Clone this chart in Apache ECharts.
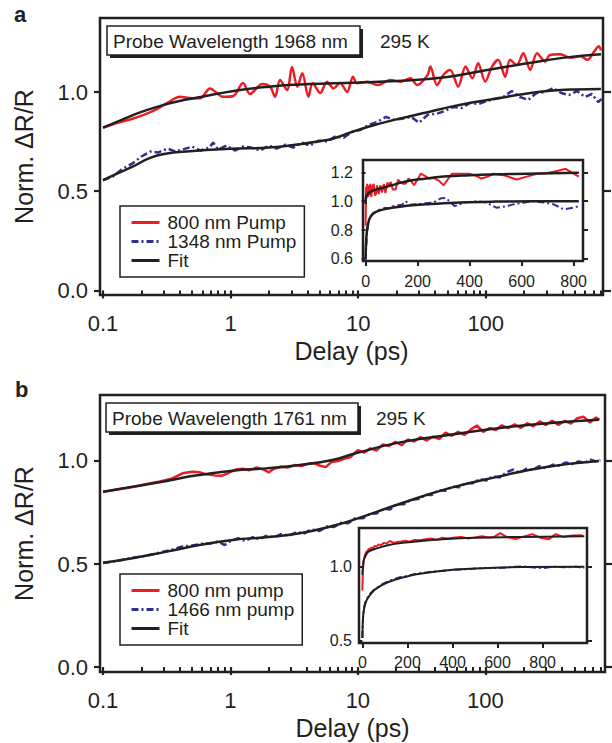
<!DOCTYPE html>
<html>
<head>
<meta charset="utf-8">
<script src="https://cdn.jsdelivr.net/npm/echarts@6/dist/echarts.min.js"></script>
<style>html,body{margin:0;padding:0;background:#fff}#c{width:612px;height:743px}</style>
</head>
<body>
<div id="c"></div>
<script>
// ---------- tick values ----------
const logMajorTicks = [0.1, 1, 10, 100];
const logMinorTicks = [0.2,0.3,0.4,0.5,0.6,0.7,0.8,0.9,2,3,4,5,6,7,8,9,20,30,40,50,60,70,80,90,200,300,400,500,600,700,800];
const mainYTicks = [0, 0.5, 1.0];
const insetAYTicks = [0.6, 0.8, 1.0, 1.2];
const insetBYTicks = [0.5, 1.0];
const insetXTicks = [0, 200, 400, 600, 800];

// ---------- panel a, main (log delay) ----------
const aRedX = [0.1,0.13,0.17,0.247,0.32,0.40,0.50,0.577,0.69,0.87,1.05,1.25,1.42,1.77,2.04,2.23,2.44,2.77,3.03,3.33,3.65,4.07,4.4,5.04,5.7,6.4,7.2,8.2,9.1,9.8,11.8,14.1,17.9,21.4,25.7,29,35,36.8,41.5,46.5,52.6,60.8,69.4,78.5,87.2,99,112,125,142,155,175,197,223,252,292,318,385,460,554,627,706,770,800];
const aRedY = [0.82,0.845,0.865,0.905,0.945,0.976,0.968,0.968,1.018,0.976,0.98,1.045,0.99,1.04,1.027,0.976,1.06,1.01,1.126,1.027,1.094,0.976,1.045,0.995,1.052,1.018,1.045,1.0,1.077,1.044,1.052,1.035,1.06,1.052,1.069,1.035,1.086,1.128,1.035,1.086,1.111,1.027,1.128,1.069,1.145,1.052,1.128,1.162,1.077,1.162,1.136,1.195,1.111,1.195,1.153,1.187,1.19,1.173,1.18,1.162,1.203,1.23,1.21];
const aBlueX = [0.1,0.12,0.14,0.17,0.2,0.234,0.27,0.32,0.37,0.43,0.5,0.58,0.68,0.73,0.8,0.93,1.08,1.25,1.45,1.7,2.0,2.3,2.7,3.1,3.6,4.2,4.9,5.7,6.6,7.7,9,10.5,12.2,14.2,16.5,19,22,26,30,35,41,48,56,65,75,88,102,118,137,160,185,215,250,290,340,390,450,520,600,680,760,810];
const aBlueY = [0.555,0.575,0.61,0.64,0.675,0.70,0.695,0.715,0.70,0.712,0.725,0.705,0.72,0.745,0.71,0.73,0.705,0.725,0.72,0.705,0.73,0.715,0.735,0.72,0.745,0.73,0.755,0.75,0.775,0.77,0.80,0.81,0.835,0.85,0.875,0.86,0.865,0.875,0.845,0.885,0.89,0.905,0.925,0.92,0.945,0.94,0.955,0.965,0.975,1.005,0.975,0.96,0.995,1.0,1.02,0.995,0.985,1.005,0.975,0.99,0.95,0.965];
const aRedFitX = [0.1,0.14,0.2,0.3,0.45,0.6,1,2,3.5,6.4,10,20,50,100,200,400,800];
const aRedFitY = [0.82,0.86,0.9,0.935,0.962,0.976,1.003,1.027,1.038,1.044,1.048,1.055,1.076,1.11,1.142,1.172,1.19];
const aBlueFitX = [0.1,0.13,0.172,0.234,0.318,0.45,0.6,1,2,3.5,5,6.4,8.6,12,21.4,35,52.6,80,129,200,318,500,800];
const aBlueFitY = [0.556,0.59,0.625,0.668,0.69,0.70,0.706,0.714,0.72,0.737,0.752,0.766,0.795,0.825,0.867,0.898,0.925,0.948,0.97,0.99,1.006,1.013,1.015];

// ---------- panel a, inset (linear delay) ----------
const aInRedX = [0,2,4,6,9,12,15,18,22,26,31,36,40,44,50,57,63,70,76,84,90,96,105,115,125,135,145,154,165,175,186,200,212,228,245,263,283,300,316,332,348,370,400,425,445,470,490,530,581,620,659,700,740,769,800,820];
const aInRedY = [0.83,1.1,1.02,1.12,1.03,1.11,1.04,1.12,1.03,1.10,1.12,1.04,1.05,1.11,1.05,1.11,1.06,1.12,1.056,1.13,1.10,1.135,1.08,1.08,1.148,1.13,1.12,1.12,1.157,1.14,1.11,1.15,1.19,1.175,1.157,1.16,1.14,1.11,1.15,1.19,1.19,1.19,1.19,1.175,1.157,1.17,1.19,1.18,1.15,1.17,1.19,1.195,1.21,1.224,1.19,1.17];
const aInBlueX = [0,3,6,10,13,18,24,31,40,50,62,76,90,105,120,140,154,170,200,230,260,290,309,342,380,426,465,503,540,568,610,645,690,723,762,800,820];
const aInBlueY = [0.59,0.7,0.78,0.84,0.877,0.89,0.905,0.92,0.925,0.94,0.945,0.955,0.95,0.965,0.97,0.975,1.0,0.975,0.98,0.985,0.99,1.02,1.022,0.966,0.99,1.0,0.99,0.955,0.965,0.978,0.99,1.0,0.99,0.978,0.944,0.955,0.966];
const aInRedFitX = [0,1,3,8,18,40,70,101,150,232,300,400,500,620,820];
const aInRedFitY = [0.98,1.02,1.035,1.05,1.065,1.08,1.095,1.11,1.135,1.157,1.17,1.18,1.186,1.19,1.197];
const aInBlueFitX = [0,2,6,12,18,30,50,75,101,150,232,300,400,500,650,820];
const aInBlueFitY = [0.6,0.72,0.81,0.86,0.888,0.915,0.933,0.945,0.955,0.966,0.978,0.986,0.993,0.997,1.0,1.0];

// ---------- panel b, main (log delay) ----------
const bRedX = [0.1,0.13,0.17,0.22,0.28,0.35,0.42,0.5,0.57,0.65,0.75,0.85,0.95,1.1,1.25,1.4,1.6,1.8,2.0,2.2,2.5,2.8,3.2,3.6,4.0,4.5,5.0,5.6,6.2,7,7.8,8.7,10,11.2,12.5,14,15.7,17.6,19.7,22,24.7,27.7,31,34.7,38.9,43.5,48.8,54.6,61.2,68.5,76.7,85.9,96.3,108,121,135,151,170,190,213,238,267,299,335,375,420,470,527,590,661,740,790];
const bRedY = [0.85,0.862,0.873,0.888,0.9,0.915,0.94,0.948,0.945,0.935,0.93,0.928,0.94,0.958,0.962,0.955,0.968,0.96,0.945,0.962,0.972,0.968,0.98,0.975,0.985,0.99,0.978,0.97,0.995,1.0,1.01,1.018,1.052,1.040,1.061,1.050,1.080,1.073,1.093,1.076,1.105,1.094,1.116,1.099,1.118,1.106,1.138,1.122,1.141,1.126,1.152,1.172,1.141,1.160,1.150,1.173,1.159,1.178,1.160,1.183,1.168,1.192,1.174,1.195,1.175,1.195,1.181,1.207,1.215,1.187,1.211,1.2];
const bBlueX = [0.1,0.13,0.17,0.22,0.28,0.35,0.42,0.5,0.6,0.7,0.8,0.9,1.0,1.15,1.3,1.5,1.7,1.9,2.2,2.5,2.9,3.3,3.8,4.3,5,5.7,6.5,7.4,8.4,9.5,11,12.5,14,16,18,20,23,26,30,34,38,43,49,55,62,70,80,90,102,115,130,147,165,185,210,235,265,300,340,380,430,480,540,600,670,740,800];
const bBlueY = [0.505,0.515,0.53,0.54,0.556,0.57,0.585,0.59,0.598,0.6,0.61,0.592,0.610,0.625,0.612,0.63,0.62,0.636,0.63,0.645,0.638,0.655,0.648,0.668,0.66,0.682,0.68,0.7,0.698,0.722,0.722,0.745,0.745,0.768,0.765,0.79,0.79,0.812,0.815,0.836,0.835,0.858,0.855,0.876,0.872,0.892,0.892,0.912,0.905,0.926,0.92,0.945,0.958,0.942,0.962,0.955,0.975,0.965,0.982,0.978,0.993,0.985,0.998,0.99,1.006,0.998,1.004];
const bRedFitX = [0.1,0.17,0.316,0.45,0.57,1.04,1.9,3.5,6.3,9.6,20.9,51.5,126,310,780];
const bRedFitY = [0.851,0.875,0.903,0.922,0.932,0.953,0.964,0.98,1.005,1.037,1.089,1.126,1.159,1.183,1.2];
const bBlueFitX = [0.1,0.17,0.316,0.57,1.04,1.9,3.5,6.3,9.6,20.9,51.5,126,310,780];
const bBlueFitY = [0.506,0.528,0.56,0.592,0.617,0.63,0.649,0.684,0.718,0.79,0.867,0.924,0.972,1.0];

// ---------- panel b, inset (linear delay) ----------
const bInRedX = [0,2,4,7,10,14,18,23,28,34,40,47,55,63,72,83,95,108,122,138,155,172,190,210,232,255,280,305,330,355,380,411,440,470,500,530,560,585,612,640,680,710,754,790,828,858,890,930,977];
const bInRedY = [0.84,0.96,1.02,1.05,1.07,1.09,1.1,1.105,1.12,1.115,1.13,1.125,1.14,1.135,1.15,1.145,1.16,1.155,1.173,1.16,1.166,1.17,1.175,1.168,1.18,1.178,1.185,1.19,1.18,1.195,1.19,1.196,1.2,1.19,1.196,1.205,1.196,1.2,1.226,1.2,1.185,1.2,1.219,1.195,1.185,1.219,1.2,1.21,1.212];
const bInBlueX = [0,2,3,5,8,12,17,25,33,42,52,60,72,85,100,113,130,150,170,188,210,235,262,290,320,350,380,411,450,490,530,560,600,640,680,709,750,800,850,900,950,985];
const bInBlueY = [0.52,0.6,0.66,0.69,0.728,0.755,0.775,0.797,0.815,0.83,0.845,0.854,0.865,0.878,0.89,0.9,0.91,0.92,0.93,0.934,0.942,0.95,0.957,0.962,0.968,0.97,0.975,0.979,0.982,0.985,0.99,0.991,0.99,0.995,1.0,1.002,0.995,0.99,1.0,0.995,1.0,0.99];
const bInRedFitX = [0,3,7,15,25,40,60,113,180,262,411,560,709,985];
const bInRedFitY = [0.945,1.0,1.048,1.075,1.098,1.11,1.121,1.144,1.16,1.173,1.19,1.196,1.2,1.205];
const bInBlueFitX = [0,3,8,15,25,40,60,113,188,262,411,560,709,985];
const bInBlueFitY = [0.52,0.66,0.72,0.76,0.79,0.82,0.85,0.895,0.93,0.953,0.98,0.99,0.998,1.0];

// ---------- styling ----------
const FONT = '"Liberation Sans", Arial, Helvetica, sans-serif';
const INK = '#231f20';
const RED = '#ed1c24';
const BLUE = '#2e3192';
const DASHDOT = [7, 3, 2, 3];

function zip(xs, ys) { return xs.map((x, i) => [x, ys[i]]); }
function fmtLog(v) { return v < 1 ? (Math.round(v * 10) / 10).toFixed(1) : String(Math.round(v)); }

function logAxes(gridIndex, min, max, withName) {
  return [
    { type: 'log', logBase: 10, gridIndex, min, max, position: 'bottom',
      axisLine: { show: false },
      axisTick: { show: true, length: 8, customValues: logMajorTicks, lineStyle: { color: INK, width: 2.2 } },
      axisLabel: { show: true, customValues: logMajorTicks, formatter: fmtLog, fontFamily: FONT, fontSize: 22, color: INK, margin: 17 },
      splitLine: { show: false },
      name: withName ? 'Delay (ps)' : '', nameLocation: 'middle', nameGap: 43,
      nameTextStyle: { fontFamily: FONT, fontSize: 25, color: INK } },
    { type: 'log', logBase: 10, gridIndex, min, max, position: 'bottom',
      axisLine: { show: false },
      axisTick: { show: true, length: 5, customValues: logMinorTicks, lineStyle: { color: INK, width: 2 } },
      axisLabel: { show: false }, splitLine: { show: false } }
  ];
}
function mainY(gridIndex, min, max) {
  return [
    { type: 'value', gridIndex, min, max, position: 'left',
      axisLine: { show: false },
      axisTick: { show: true, length: 6, customValues: mainYTicks, lineStyle: { color: INK, width: 2.2 } },
      axisLabel: { show: true, customValues: mainYTicks, formatter: v => v.toFixed(1), fontFamily: FONT, fontSize: 22, color: INK, margin: 12 },
      splitLine: { show: false },
      name: 'Norm. \u0394R/R', nameLocation: 'middle', nameGap: 64, nameRotate: 90,
      nameTextStyle: { fontFamily: FONT, fontSize: 25, color: INK } },
    { type: 'value', gridIndex, min, max, position: 'right',
      axisLine: { show: false },
      axisTick: { show: true, length: 8, customValues: mainYTicks, lineStyle: { color: INK, width: 2.2 } },
      axisLabel: { show: false }, splitLine: { show: false } }
  ];
}
function insetX(gridIndex, min, max, margin) {
  return { type: 'value', gridIndex, min, max, position: 'bottom', z: 6,
    axisLine: { show: false },
    axisTick: { show: true, length: 5, customValues: insetXTicks, lineStyle: { color: INK, width: 2 } },
    axisLabel: { show: true, customValues: insetXTicks, fontFamily: FONT, fontSize: 16, color: INK, margin },
    splitLine: { show: false } };
}
function insetY(gridIndex, min, max, ticks, margin) {
  return [
    { type: 'value', gridIndex, min, max, position: 'left', z: 6,
      axisLine: { show: false },
      axisTick: { show: true, length: 4, customValues: ticks, lineStyle: { color: INK, width: 2 } },
      axisLabel: { show: true, customValues: ticks, formatter: v => v.toFixed(1), fontFamily: FONT, fontSize: 16, color: INK, margin },
      splitLine: { show: false } },
    { type: 'value', gridIndex, min, max, position: 'right', z: 6,
      axisLine: { show: false },
      axisTick: { show: true, length: 5, customValues: ticks, lineStyle: { color: INK, width: 2 } },
      axisLabel: { show: false }, splitLine: { show: false } }
  ];
}
function line(name, xs, ys, color, xi, yi, opts) {
  opts = opts || {};
  return {
    type: 'line', name, xAxisIndex: xi, yAxisIndex: yi, data: zip(xs, ys),
    showSymbol: false, symbol: 'none', smooth: opts.smooth || 0, z: opts.z || 2,
    lineStyle: { color, width: opts.width || 2.5, type: opts.dash || 'solid' },
    itemStyle: { color }, animation: false
  };
}
function legendAt(top, names) {
  return { orient: 'vertical', left: 120, top, padding: [7, 8, 7, 10], itemGap: 0,
    itemWidth: 28, itemHeight: 12, borderColor: INK, borderWidth: 1.5, backgroundColor: '#fff',
    data: names, selectedMode: false,
    itemStyle: { color: 'rgba(0,0,0,0)', borderColor: 'rgba(0,0,0,0)', borderWidth: 0, opacity: 0 },
    lineStyle: { width: 3 },
    textStyle: { fontFamily: FONT, fontSize: 19, color: INK, lineHeight: 19, padding: [0, 0, 0, 3] } };
}

const aMin = 0.0947, aMax = 830, bMin = 0.0947, bMax = 870;

const option = {
  animation: false,
  backgroundColor: '#fff',
  grid: [
    { left: 100, top: 18, width: 503, height: 277, show: true, borderColor: INK, borderWidth: 2.5, backgroundColor: 'transparent' },
    { left: 363, top: 160, width: 220, height: 101, show: true, borderColor: INK, borderWidth: 2.5, backgroundColor: '#fff', z: 5 },
    { left: 100, top: 395, width: 505, height: 277, show: true, borderColor: INK, borderWidth: 2.5, backgroundColor: 'transparent' },
    { left: 359, top: 528, width: 228, height: 115, show: true, borderColor: INK, borderWidth: 2.5, backgroundColor: '#fff', z: 5 }
  ],
  xAxis: [
    ...logAxes(0, aMin, aMax, true),
    insetX(1, -10, 836, 12),
    ...logAxes(2, bMin, bMax, true),
    insetX(3, -15, 997, 11)
  ],
  yAxis: [
    ...mainY(0, -0.023, 1.373),
    ...insetY(1, 0.586, 1.285, insetAYTicks, 10),
    ...mainY(2, -0.024, 1.32),
    ...insetY(3, 0.486, 1.26, insetBYTicks, 7)
  ],
  legend: [
    legendAt(206, ['800 nm Pump', '1348 nm Pump', 'Fit']),
    legendAt(574, ['800 nm pump', '1466 nm pump', 'Fit'])
  ],
  graphic: [
    { type: 'text', left: 14, top: 3, style: { text: 'a', fontFamily: FONT, fontSize: 22, fontWeight: 'bold', fill: INK } },
    { type: 'text', left: 15, top: 378, style: { text: 'b', fontFamily: FONT, fontSize: 22, fontWeight: 'bold', fill: INK } },
    { type: 'rect', shape: { x: 110, y: 29, width: 253, height: 29 }, style: { fill: INK }, z: 10 },
    { type: 'rect', shape: { x: 107, y: 26, width: 253, height: 29 }, style: { fill: '#fff', stroke: INK, lineWidth: 1.5 }, z: 11 },
    { type: 'text', x: 113, y: 41, style: { text: 'Probe Wavelength 1968 nm', fontFamily: FONT, fontSize: 19, fill: INK, verticalAlign: 'middle' }, z: 12 },
    { type: 'text', x: 380, y: 41, style: { text: '295 K', fontFamily: FONT, fontSize: 19, fill: INK, verticalAlign: 'middle' }, z: 12 },
    { type: 'rect', shape: { x: 109, y: 406, width: 252, height: 29 }, style: { fill: INK }, z: 10 },
    { type: 'rect', shape: { x: 106, y: 403, width: 252, height: 29 }, style: { fill: '#fff', stroke: INK, lineWidth: 1.5 }, z: 11 },
    { type: 'text', x: 112, y: 418, style: { text: 'Probe Wavelength 1761 nm', fontFamily: FONT, fontSize: 19, fill: INK, verticalAlign: 'middle' }, z: 12 },
    { type: 'text', x: 376, y: 418, style: { text: '295 K', fontFamily: FONT, fontSize: 19, fill: INK, verticalAlign: 'middle' }, z: 12 }
  ],
  series: [
    line('800 nm Pump', aRedX, aRedY, RED, 0, 0, { smooth: 0.3 }),
    line('1348 nm Pump', aBlueX, aBlueY, BLUE, 0, 0, { dash: DASHDOT, width: 2.5 }),
    line('Fit', aRedFitX, aRedFitY, INK, 0, 0, { smooth: 0.5, width: 2.5, z: 3 }),
    line('Fit', aBlueFitX, aBlueFitY, INK, 0, 0, { smooth: 0.5, width: 2.5, z: 3 }),
    line('800 nm Pump', aInRedX, aInRedY, RED, 2, 2, { width: 2, z: 7 }),
    line('1348 nm Pump', aInBlueX, aInBlueY, BLUE, 2, 2, { dash: DASHDOT, width: 2, z: 7 }),
    line('Fit', aInRedFitX, aInRedFitY, INK, 2, 2, { smooth: 0.5, width: 2.5, z: 8 }),
    line('Fit', aInBlueFitX, aInBlueFitY, INK, 2, 2, { smooth: 0.5, width: 2.5, z: 8 }),
    line('800 nm pump', bRedX, bRedY, RED, 3, 4, { width: 2.5 }),
    line('1466 nm pump', bBlueX, bBlueY, BLUE, 3, 4, { dash: DASHDOT, width: 2.5 }),
    line('Fit', bRedFitX, bRedFitY, INK, 3, 4, { smooth: 0.5, width: 2.5, z: 3 }),
    line('Fit', bBlueFitX, bBlueFitY, INK, 3, 4, { smooth: 0.5, width: 2.5, z: 3 }),
    line('800 nm pump', bInRedX, bInRedY, RED, 5, 6, { width: 2, z: 7 }),
    line('1466 nm pump', bInBlueX, bInBlueY, BLUE, 5, 6, { dash: DASHDOT, width: 2, z: 7 }),
    line('Fit', bInRedFitX, bInRedFitY, INK, 5, 6, { smooth: 0.5, width: 2, z: 8 }),
    line('Fit', bInBlueFitX, bInBlueFitY, INK, 5, 6, { smooth: 0.5, width: 2, z: 8 })
  ]
};

const chart = echarts.init(document.getElementById('c'), null, { renderer: 'svg', width: 612, height: 743 });
chart.setOption(option);
</script>
</body>
</html>
